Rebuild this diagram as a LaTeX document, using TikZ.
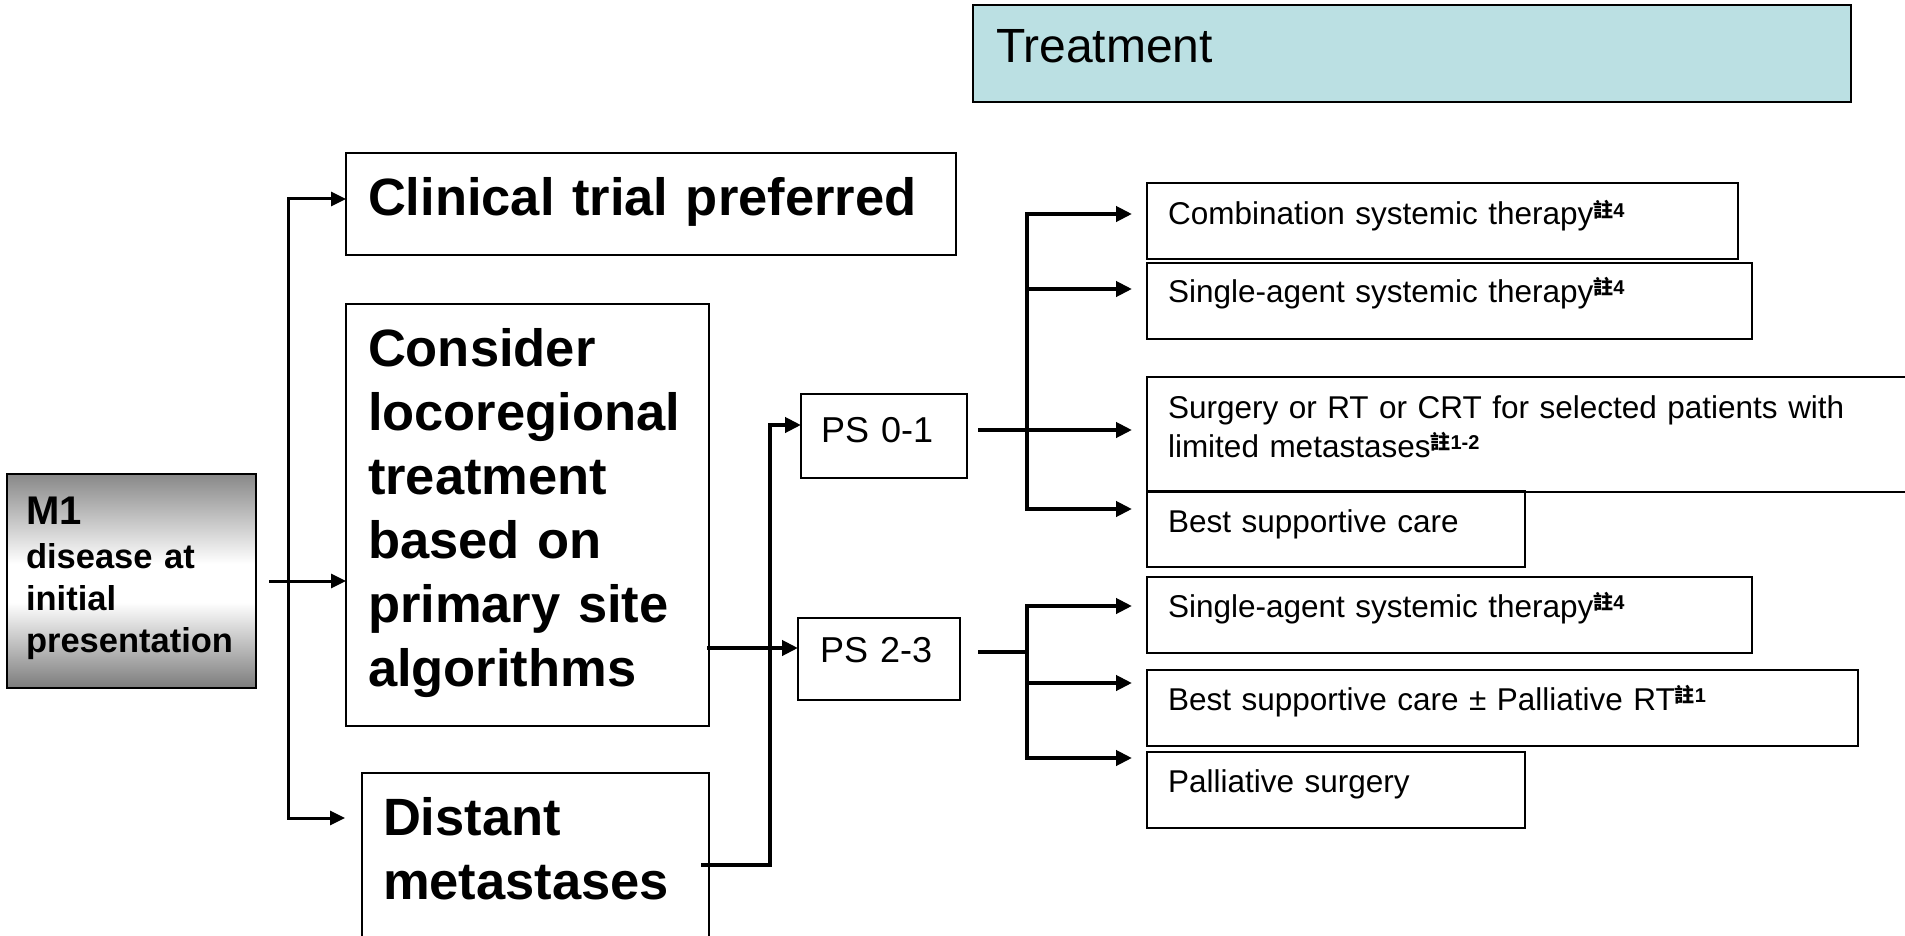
\documentclass[tikz,border=0pt]{standalone}
\usepackage{fontspec}
\setmainfont{Liberation Sans}
\newfontfamily\cjk{Noto Sans CJK TC}
\usetikzlibrary{arrows.meta,calc}
\definecolor{treatbg}{RGB}{187,224,227}
\definecolor{mgreytop}{RGB}{136,136,136}
\definecolor{mgreybot}{RGB}{124,124,124}
\pgfdeclareverticalshading{mgrey}{100bp}{color(0bp)=(mgreybot); color(25bp)=(mgreybot); color(45bp)=(white); color(54bp)=(white); color(75bp)=(mgreytop); color(100bp)=(mgreytop)}
\newcommand{\zhu}[1]{\raisebox{8pt}{\fontsize{20}{20}\selectfont{\cjk\bfseries 註}\textbf{#1}}}
\hyphenpenalty=10000

\begin{document}
\begin{tikzpicture}[x=1pt, y=-1pt,
    box/.style={draw, line width=1.5pt, anchor=north west, align=left, inner ysep=0pt, outer sep=0pt},
    big/.style={box, font=\fontsize{52.5}{64}\selectfont\bfseries, text height=62pt},
    opt/.style={box, font=\fontsize{31.5}{39}\selectfont, inner xsep=21pt},
    lnk/.style={line width=3pt, line cap=rect},
    arrL/.style={lnk, -{Triangle[length=15pt,width=14pt]}},
    arrR/.style={lnk, line width=4pt, -{Triangle[length=16pt,width=15pt]}},
    gap/.style={shorten >=15pt}]

\useasboundingbox (0,0) rectangle (1905,936);
\clip (0,0) rectangle (1905,936);

% Header
\node[box, fill=treatbg, inner xsep=23pt, text width=832pt, text height=58pt, text depth=39pt,
      font=\fontsize{48}{58}\selectfont] (treat) at (973,5) {Treatment};

% Start box
\node[box, shade, shading=mgrey, inner xsep=19pt, text width=211pt, text height=50pt, text depth=164pt,
      font=\fontsize{34.5}{42}\selectfont\bfseries] (m1) at (7,474)
      {{\fontsize{40}{40}\selectfont M1}\\[2pt]disease at\\initial\\presentation};

% First choices
\node[big, inner xsep=22pt, text width=566pt, text depth=40pt] (clin) at (346,153) {Clinical trial preferred};
\node[big, inner xsep=22pt, text width=319pt, text depth=360pt] (cons) at (346,304)
      {Consider\\locoregional\\treatment\\based on\\primary site\\algorithms};
\node[big, inner xsep=21pt, text width=305pt, text depth=115pt] (dist) at (362,773) {Distant\\metastases};

% Performance status
\node[box, inner xsep=20pt, text width=126pt, text height=48pt, text depth=36pt,
      font=\fontsize{36}{40}\selectfont] (ps01) at (801,394) {PS 0-1};
\node[box, inner xsep=22pt, text width=118pt, text height=44pt, text depth=38pt,
      font=\fontsize{36}{40}\selectfont] (ps23) at (798,618) {PS 2-3};

% Options for PS 0-1
\node[opt, text width=549pt, text height=42pt, text depth=34pt] (comb) at (1147,183) {Combination systemic therapy\zhu{4}};
\node[opt, text width=563pt, text height=39pt, text depth=37pt] (sing1) at (1147,263) {Single-agent systemic therapy\zhu{4}};
\node[opt, text width=751pt, text height=41pt, text depth=74pt] (surg) at (1147,377)
      {Surgery or RT or CRT for selected patients with\\limited metastases\zhu{1-2}};
\node[opt, text width=336pt, text height=41pt, text depth=35pt] (bsc) at (1147,491) {Best supportive care};

% Options for PS 2-3
\node[opt, text width=563pt, text height=40pt, text depth=36pt] (sing2) at (1147,577) {Single-agent systemic therapy\zhu{4}};
\node[opt, text width=669pt, text height=40pt, text depth=36pt] (bscrt) at (1147,670) {Best supportive care ± Palliative RT\zhu{1}};
\node[opt, text width=336pt, text height=40pt, text depth=36pt] (pall) at (1147,752) {Palliative surgery};

% Left branch
\coordinate (lt) at (288,199);
\coordinate (lb) at (288,818);
\draw[arrL] (lb) -- (lt) -- (lt -| clin.west);
\draw[arrL, shorten >=17pt] (lb) -- (lb -| dist.west);
\draw[arrL, shorten <=14pt] (m1.east) -- (m1.east -| cons.west);

% Into PS boxes
\coordinate (v01) at (770,425);
\coordinate (vds) at (770,865);
\coordinate (c23) at (709,648);
\draw[arrR] ([xshift=-6pt]dist.east |- vds) -- (vds) -- (v01) -- (v01 -| ps01.west);
\draw[arrR] (c23) -- (c23 -| ps23.west);

% PS 0-1 branch
\coordinate (r01) at (980,430);
\coordinate (b1) at (1027,214);
\coordinate (b2) at (1027,289);
\coordinate (b4) at (1027,509);
\draw[arrR, gap] (r01) -- (r01 -| surg.west);
\draw[lnk, line width=4pt] (b1) -- (b4);
\foreach \c/\b in {b1/comb, b2/sing1, b4/bsc}
    \draw[arrR, gap] (\c) -- (\c -| \b.west);

% PS 2-3 branch
\coordinate (r23) at (980,652);
\coordinate (d1) at (1027,606);
\coordinate (d2) at (1027,683);
\coordinate (d3) at (1027,758);
\draw[lnk, line width=4pt] (r23) -- (r23 -| d1);
\draw[lnk, line width=4pt] (d1) -- (d3);
\foreach \c/\b in {d1/sing2, d2/bscrt, d3/pall}
    \draw[arrR, gap] (\c) -- (\c -| \b.west);

\end{tikzpicture}
\end{document}
